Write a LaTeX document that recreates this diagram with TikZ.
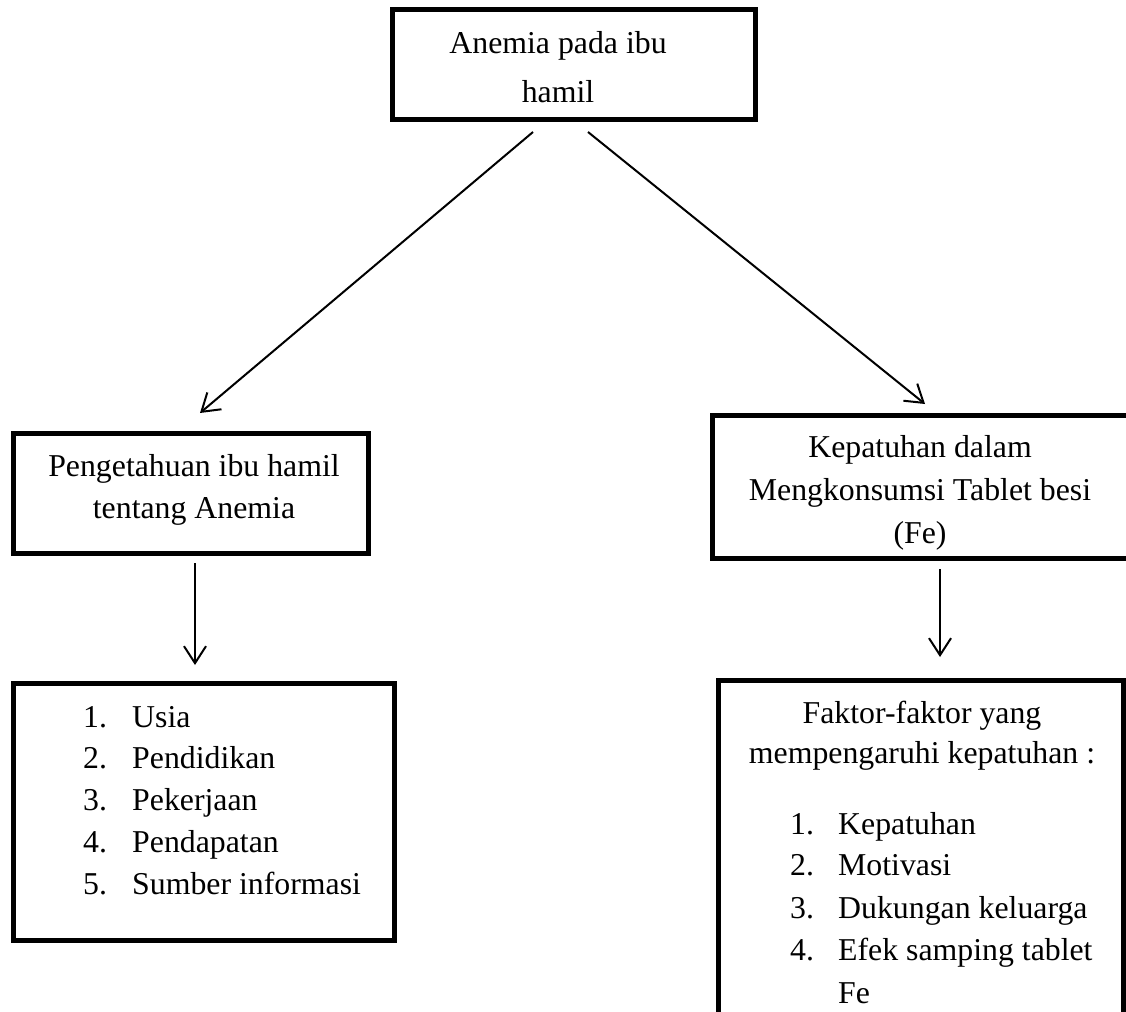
\documentclass[tikz,border=0pt]{standalone}
\usepackage{fontspec}
\setmainfont{Liberation Serif}
\usetikzlibrary{arrows.meta}

\begin{document}
\begin{tikzpicture}[x=1pt,y=-1pt,
  kotak/.style={draw, line width=5pt, inner sep=0pt},
  panah/.style={-{Straight Barb[length=17pt,width=22pt,line width=2pt]}, line width=2pt},
  teks/.style={anchor=base, inner sep=0pt, font=\fontsize{31.8pt}{40pt}\selectfont}]
  \useasboundingbox (0,0) rectangle (1126,1011);
  \clip (0,0) rectangle (1126,1011);
  % kotak-kotak
  \node[kotak, minimum width=363pt, minimum height=110pt] (anemia) at (573.5,65) {};
  \node[kotak, minimum width=355pt, minimum height=120pt] (tahu) at (190.5,493) {};
  \node[kotak, minimum width=416pt, minimum height=143pt] (patuh) at (920,486.5) {};
  \node[kotak, minimum width=381pt, minimum height=257pt] (faktorkiri) at (203.5,811.5) {};
  \node[kotak, minimum width=405pt, minimum height=360pt] (faktorkanan) at (920.5,860) {};
  % teks
  \node[teks] (anemia1) at (558,54) {Anemia pada ibu};
  \node[teks] (anemia2) at (558,103) {hamil};
  \node[teks] (tahu1) at (194,476) {Pengetahuan ibu hamil};
  \node[teks] (tahu2) at (194,518) {tentang Anemia};
  \node[teks] (patuh1) at (920,457) {Kepatuhan dalam};
  \node[teks] (patuh2) at (920,500) {Mengkonsumsi Tablet besi};
  \node[teks] (patuh3) at (920,543) {(Fe)};
  \foreach \n/\y/\isi in {1/727/Usia, 2/768/Pendidikan, 3/810/Pekerjaan, 4/852/Pendapatan, 5/894/Sumber informasi}{
    \node[teks, anchor=base west] (nokiri\n) at (83,\y) {\n.};
    \node[teks, anchor=base west] (kiri\n) at (132,\y) {\isi};
  }
  \node[teks] (faktor1) at (922,723) {Faktor-faktor yang};
  \node[teks] (faktor2) at (922,763) {mempengaruhi kepatuhan :};
  \foreach \n/\y/\isi in {1/834/Kepatuhan, 2/875/Motivasi, 3/918/Dukungan keluarga, 4/960/Efek samping tablet}{
    \node[teks, anchor=base west] (nokanan\n) at (790,\y) {\n.};
    \node[teks, anchor=base west] (kanan\n) at (838,\y) {\isi};
  }
  \node[teks, anchor=base west] (kanan5) at (838,1003) {Fe};
  % panah
  \coordinate (a1) at (533,132);
  \coordinate (a2) at (200,413);
  \coordinate (b1) at (588,132);
  \coordinate (b2) at (925,404);
  \coordinate (c1) at (195,563);
  \coordinate (c2) at (195,665);
  \coordinate (d1) at (940,569);
  \coordinate (d2) at (940,657);
  \draw[panah] (a1) -- (a2);
  \draw[panah] (b1) -- (b2);
  \draw[panah] (c1) -- (c2);
  \draw[panah] (d1) -- (d2);
\end{tikzpicture}
\end{document}
